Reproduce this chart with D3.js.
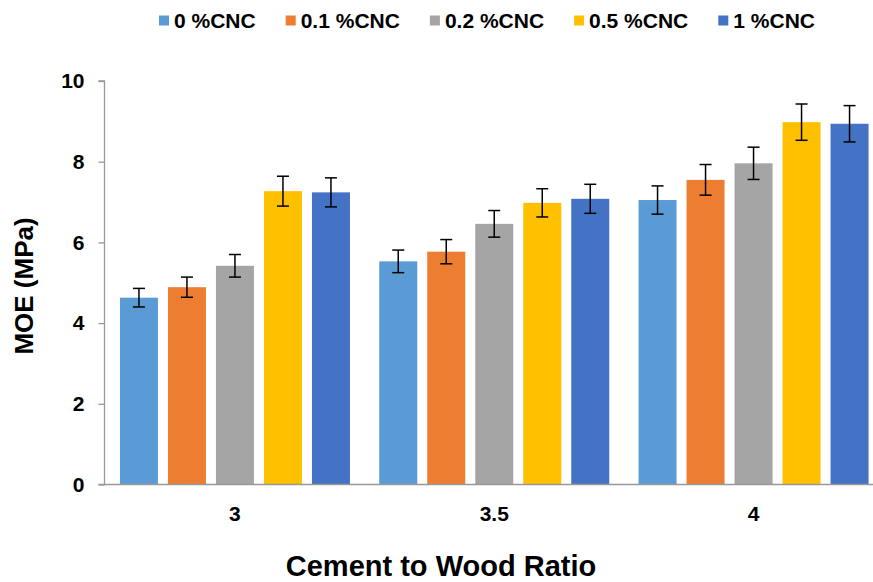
<!DOCTYPE html>
<html>
<head>
<meta charset="utf-8">
<script src="https://cdn.jsdelivr.net/npm/d3@7/dist/d3.min.js"></script>
<style>
  html, body { margin: 0; padding: 0; background: #fff; }
  svg { display: block; font-family: "Liberation Sans", Arial, sans-serif; }
</style>
</head>
<body>
<svg id="chart" width="873" height="582"></svg>
<script>
// ---- Data ----
const categories = ["3", "3.5", "4"];
const seriesNames = ["0 %CNC", "0.1 %CNC", "0.2 %CNC", "0.5 %CNC", "1 %CNC"];
const seriesColors = ["#5B9BD5", "#ED7D31", "#A5A5A5", "#FFC000", "#4472C4"];
const cnc0 = [4.63, 5.53, 7.05];
const cnc01 = [4.89, 5.77, 7.55];
const cnc02 = [5.42, 6.46, 7.96];
const cnc05 = [7.27, 6.98, 8.98];
const cnc1 = [7.24, 7.08, 8.94];
const err0 = [0.23, 0.28, 0.35];
const err01 = [0.25, 0.30, 0.38];
const err02 = [0.28, 0.33, 0.40];
const err05 = [0.37, 0.35, 0.45];
const err1 = [0.36, 0.36, 0.45];
const yTicks = [0, 2, 4, 6, 8, 10];
const xTitle = "Cement to Wood Ratio";
const yTitle = "MOE (MPa)";

const seriesValues = [cnc0, cnc01, cnc02, cnc05, cnc1];
const seriesErrors = [err0, err01, err02, err05, err1];

const rows = [];
categories.forEach((c, ci) => {
  seriesNames.forEach((s, si) => {
    rows.push({ cat: c, series: s, si: si, value: seriesValues[si][ci], err: seriesErrors[si][ci] });
  });
});

// ---- Layout ----
const svg = d3.select("#chart");
const axisX = 104.5, axisY = 484.5, topY = 81;

const x0 = d3.scaleBand().domain(categories).range([105.3, 883.2]).paddingInner(0).paddingOuter(0);
const groupPad = (x0.bandwidth() - 230) / 2;
const x1 = d3.scaleBand().domain(seriesNames).range([groupPad, groupPad + 230]).paddingInner(10 / 48).paddingOuter(0);
const y = d3.scaleLinear().domain([0, 10]).range([axisY, topY]);
const color = d3.scaleOrdinal().domain(seriesNames).range(seriesColors);

// Bars
svg.append("g").selectAll("rect").data(rows).join("rect")
  .attr("x", d => x0(d.cat) + x1(d.series))
  .attr("y", d => y(d.value))
  .attr("width", x1.bandwidth())
  .attr("height", d => y(0) - y(d.value))
  .attr("fill", d => color(d.series));

// Error bars
const eg = svg.append("g").attr("stroke", "#000").attr("stroke-width", 1.5);
rows.forEach(d => {
  const cx = x0(d.cat) + x1(d.series) + x1.bandwidth() / 2;
  const yt = y(d.value + d.err), yb = y(d.value - d.err);
  eg.append("line").attr("x1", cx).attr("x2", cx).attr("y1", yt).attr("y2", yb);
  eg.append("line").attr("x1", cx - 6).attr("x2", cx + 6).attr("y1", yt).attr("y2", yt);
  eg.append("line").attr("x1", cx - 6).attr("x2", cx + 6).attr("y1", yb).attr("y2", yb);
});

// Y axis
const yAxis = d3.axisLeft(y).tickValues(yTicks).tickSize(6).tickPadding(14).tickFormat(d3.format("d"));
const yg = svg.append("g").attr("transform", `translate(${axisX},0)`).call(yAxis);
yg.select(".domain").attr("stroke", "#999").attr("stroke-width", 1.3).attr("d", `M-6,${topY}H0V${axisY}H-6`);
yg.selectAll(".tick line").attr("stroke", "#999").attr("stroke-width", 1.3);
yg.selectAll(".tick text").attr("font-size", 21).attr("font-weight", "bold").attr("fill", "#000")
  .attr("font-family", "'Liberation Sans', Arial, sans-serif");

// X axis
const xAxis = d3.axisBottom(x0).tickSize(0).tickPadding(22);
const xg = svg.append("g").attr("transform", `translate(0,${axisY})`).call(xAxis);
xg.select(".domain").attr("stroke", "#999").attr("stroke-width", 1.3).attr("d", `M${axisX},0H${x0.range()[1]}`);
xg.selectAll(".tick text").attr("font-size", 21).attr("font-weight", "bold").attr("fill", "#000")
  .attr("font-family", "'Liberation Sans', Arial, sans-serif");

// Axis titles
svg.append("text").attr("x", 441).attr("y", 576).attr("text-anchor", "middle")
  .attr("font-size", 29).attr("font-weight", "bold").attr("fill", "#000").text(xTitle);
svg.append("text").attr("transform", "translate(33,286) rotate(-90)").attr("text-anchor", "middle")
  .attr("font-size", 26).attr("font-weight", "bold").attr("fill", "#000").text(yTitle);

// Legend
const lg = svg.append("g");
let lx = 159;
seriesNames.forEach((s, i) => {
  lg.append("rect").attr("x", lx).attr("y", 15.5).attr("width", 10).attr("height", 10).attr("fill", color(s));
  const t = lg.append("text").attr("x", lx + 15).attr("y", 28).attr("font-size", 21).attr("font-weight", "bold")
    .attr("fill", "#000").text(s);
  const w = t.node().getComputedTextLength();
  lx = lx + 15 + w + 30;
});
</script>
</body>
</html>
